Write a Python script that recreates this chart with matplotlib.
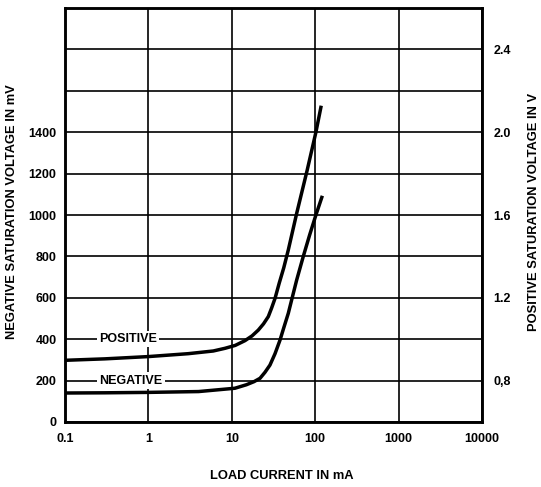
import matplotlib.pyplot as plt
from matplotlib.ticker import FixedLocator, NullLocator

# =========================
# DATA
# =========================

pos_current = [0.1, 0.3, 1, 3, 6, 8.3, 11, 14.4, 17.5, 20.8, 24, 27.4, 30, 33, 37, 42, 47.6, 60, 80, 102, 117]
pos_mv = [298, 305, 316, 330, 343, 356, 370, 393, 416, 444, 474, 509, 550, 597, 670, 745, 831, 1008, 1215, 1400, 1520]

neg_current = [0.1, 0.3, 1, 4, 10.9, 15, 18.5, 21.8, 25, 28.7, 33, 37.9, 42, 47.6, 53, 60, 72, 86, 102, 120]
neg_mv = [140, 141, 143, 147, 163, 180, 195, 211, 240, 275, 330, 396, 455, 525, 600, 686, 800, 905, 1000, 1085]

x_ticks = [0.1, 1, 10, 100, 1000, 10000]
x_labels = ["0.1", "1", "10", "100", "1000", "10000"]
y_ticks = [0, 200, 400, 600, 800, 1000, 1200, 1400, 1600, 1800]
y_labels = ["0", "200", "400", "600", "800", "1000", "1200", "1400", "", ""]
y2_ticks = [0.8, 1.2, 1.6, 2.0, 2.4]
y2_labels = ["0,8", "1.2", "1.6", "2.0", "2.4"]

# =========================
# FIGURE
# =========================

plt.rcParams["font.family"] = ["Liberation Sans", "DejaVu Sans"]
plt.rcParams["font.weight"] = "bold"

fig = plt.figure(figsize=(5.41, 4.87), dpi=100)
ax = fig.add_axes([0.120, 0.1335, 0.771, 0.850])

ax.plot(pos_current, pos_mv, color="black", lw=2.5, solid_joinstyle="round", zorder=3)
ax.plot(neg_current, neg_mv, color="black", lw=2.5, solid_joinstyle="round", zorder=3)

ax.set_xscale("log")
ax.set_xlim(0.1, 10000)
ax.set_ylim(0, 2000)
ax.xaxis.set_major_locator(FixedLocator(x_ticks))
ax.xaxis.set_minor_locator(NullLocator())
ax.set_xticklabels(x_labels)
ax.set_yticks(y_ticks)
ax.set_yticklabels(y_labels)
ax.tick_params(axis="y", length=0, labelsize=9, pad=6)
ax.tick_params(axis="x", length=0, labelsize=9, pad=8)
ax.grid(True, color="black", lw=1.2)
ax.set_axisbelow(True)
for s in ax.spines.values():
    s.set_linewidth(1.8)

# etiquettes des courbes, posées sur les lignes de grille
ax.text(0.57, 400, "POSITIVE", ha="center", va="center", fontsize=9, fontweight="bold",
        bbox=dict(facecolor="white", edgecolor="none", pad=1.5), zorder=2)
ax.text(0.62, 200, "NEGATIVE", ha="center", va="center", fontsize=9, fontweight="bold",
        bbox=dict(facecolor="white", edgecolor="none", pad=1.5), zorder=2)

ax2 = ax.twinx()
ax2.set_ylim(0.6, 2.6)
ax2.set_yticks(y2_ticks)
ax2.set_yticklabels(y2_labels)
ax2.tick_params(length=0, labelsize=9, pad=8)
for s in ax2.spines.values():
    s.set_linewidth(1.8)

fig.text(0.023, 0.565, "NEGATIVE SATURATION VOLTAGE IN mV", rotation=90, ha="center", va="center",
         fontsize=9.3, fontweight="bold")
fig.text(0.987, 0.565, "POSITIVE SATURATION VOLTAGE IN V", rotation=90, ha="center", va="center",
         fontsize=9.3, fontweight="bold")
fig.text(0.52, 0.022, "LOAD CURRENT IN mA", ha="center", va="center",
         fontsize=9.3, fontweight="bold")

fig.savefig("out.png", dpi=100, facecolor="white")
